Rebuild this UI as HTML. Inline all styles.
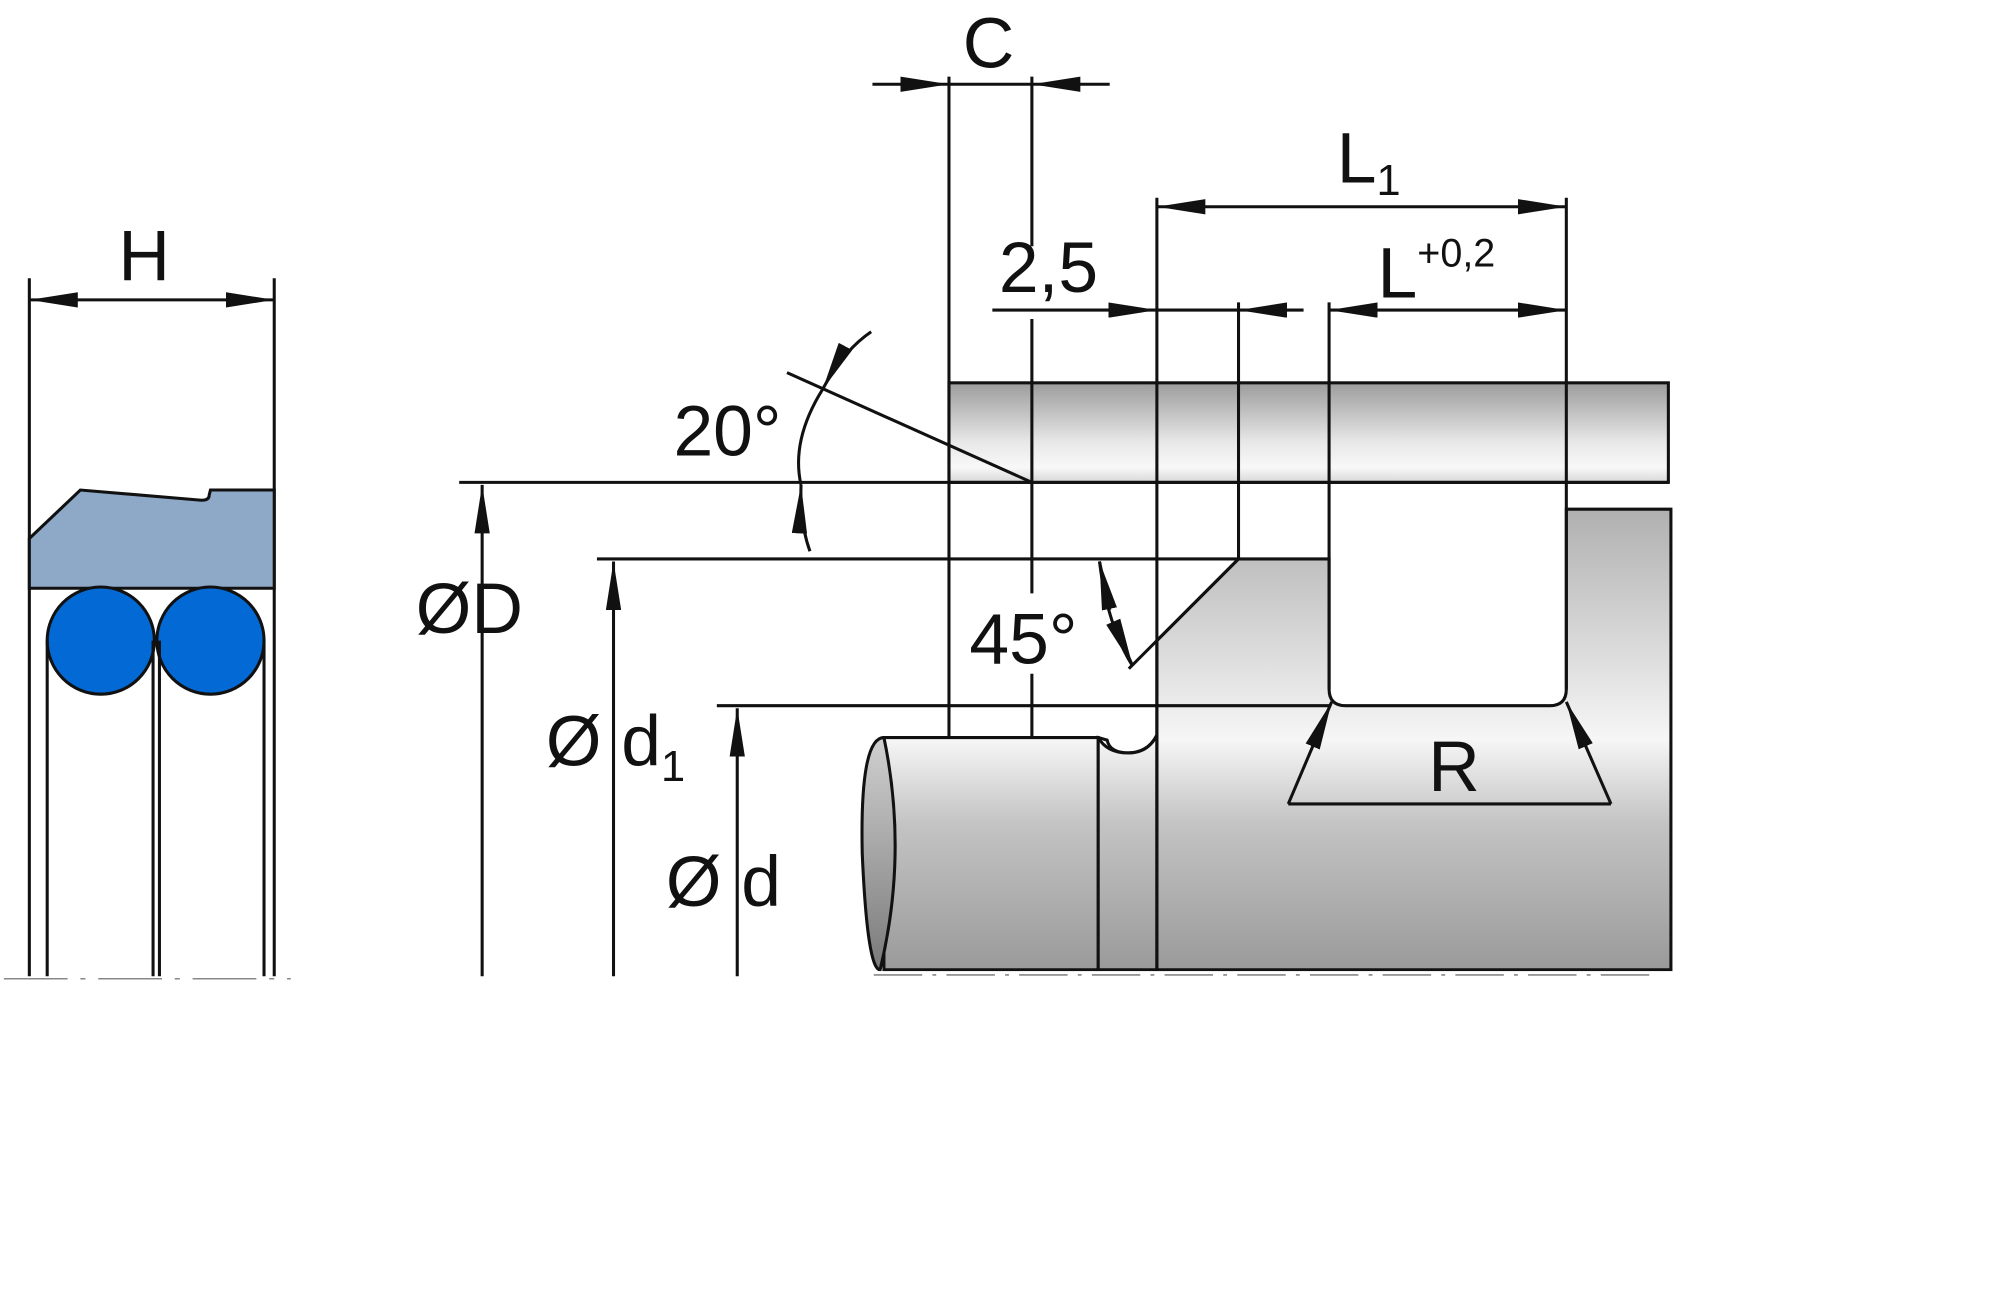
<!DOCTYPE html>
<html><head><meta charset="utf-8"><style>html,body{margin:0;padding:0;background:#fff}svg{display:block}</style></head>
<body>
<svg width="2000" height="1308" viewBox="0 0 1568 1025" preserveAspectRatio="none" xmlns="http://www.w3.org/2000/svg" font-family="Liberation Sans, sans-serif">
<defs>
<linearGradient id="gt" x1="0" y1="0" x2="0" y2="1">
<stop offset="0" stop-color="#9c9c9c"/><stop offset="0.6" stop-color="#e8e8e8"/><stop offset="0.85" stop-color="#f8f8f8"/><stop offset="1" stop-color="#d8d8d8"/></linearGradient>
<linearGradient id="gb" gradientUnits="userSpaceOnUse" x1="0" y1="399" x2="0" y2="760">
<stop offset="0" stop-color="#b0b0b0"/><stop offset="0.5" stop-color="#f6f6f6"/><stop offset="0.68" stop-color="#c4c4c4"/><stop offset="1" stop-color="#9a9a9a"/></linearGradient>
<linearGradient id="ge" x1="0" y1="0" x2="0" y2="1"><stop offset="0" stop-color="#d0d0d0"/><stop offset="1" stop-color="#7a7a7a"/></linearGradient>
<marker id="b" viewBox="0 0 10 10" refX="10" refY="5" markerWidth="38" markerHeight="12" markerUnits="userSpaceOnUse" orient="auto-start-reverse" preserveAspectRatio="none"><path d="M0,0 L10,5 L0,10 Z" fill="#111"/></marker>
</defs>
<g stroke="#111" stroke-width="2.4" fill="none">
<line x1="23" y1="218" x2="23" y2="765"/><line x1="215" y1="218" x2="215" y2="765"/>
<line x1="23" y1="235" x2="215" y2="235" marker-start="url(#b)" marker-end="url(#b)"/>
<path d="M23,422 L63,384 L158,392 Q164,392 164,388 L165,384 L215,384 L215,461 L23,461 Z" fill="#8ea8c8"/>
<circle cx="79" cy="502" r="42" fill="#0369d5"/><circle cx="165" cy="502" r="42" fill="#0369d5"/>
<line x1="37" y1="502" x2="37" y2="765"/><line x1="120" y1="502" x2="120" y2="765"/><line x1="125" y1="502" x2="125" y2="765"/><line x1="207" y1="502" x2="207" y2="765"/>
<line x1="3" y1="767" x2="228" y2="767" stroke="#888" stroke-width="1.2" stroke-dasharray="50,10,4,10"/>
<rect x="744" y="300" width="564" height="78" fill="url(#gt)"/>
<path d="M907,502 L971,438 L1042,438 L1042,540 Q1042,553 1055,553 L1215,553 Q1228,553 1228,540 L1228,399 L1310,399 L1310,760 L907,760 Z" fill="url(#gb)"/>
<path d="M693,578 L861,578 L861,760 L693,760 Z" fill="url(#gb)"/>
<path d="M861,578 L861,760 L907,760 L907,576 Q900,590 885,590 Q870,590 868,580 Z" fill="url(#gb)"/>
<path d="M861,578 Q868,590 884,590 Q900,590 907,576"/>
<path d="M693,578 Q674,578 676,669 Q680,760 690,760 Q712,669 693,578 Z" fill="url(#ge)"/>
<rect x="676" y="761" width="660" height="6" fill="#fff" stroke="none"/>
<line x1="685" y1="764" x2="1300" y2="764" stroke="#888" stroke-width="1.2" stroke-dasharray="38,8,3,8"/>
<line x1="744" y1="60" x2="744" y2="578"/>
<line x1="809" y1="60" x2="809" y2="193"/><line x1="809" y1="250" x2="809" y2="465"/><line x1="809" y1="528" x2="809" y2="578"/>
<line x1="907" y1="155" x2="907" y2="760"/>
<line x1="971" y1="237" x2="971" y2="438"/>
<line x1="1042" y1="237" x2="1042" y2="540"/>
<line x1="1228" y1="155" x2="1228" y2="540"/>
<line x1="360" y1="378" x2="1308" y2="378"/>
<line x1="468" y1="438" x2="971" y2="438"/>
<line x1="562" y1="553" x2="1042" y2="553"/>
<line x1="971" y1="438" x2="885" y2="524"/>
<line x1="617" y1="292" x2="809" y2="378"/>
<line x1="684" y1="66" x2="744" y2="66" marker-end="url(#b)"/>
<line x1="870" y1="66" x2="809" y2="66" marker-end="url(#b)"/>
<line x1="744" y1="66" x2="809" y2="66"/>
<line x1="907" y1="162" x2="1228" y2="162" marker-start="url(#b)" marker-end="url(#b)"/>
<line x1="778" y1="243" x2="907" y2="243" marker-end="url(#b)"/>
<line x1="907" y1="243" x2="971" y2="243"/>
<line x1="1022" y1="243" x2="971" y2="243" marker-end="url(#b)"/>
<line x1="1042" y1="243" x2="1228" y2="243" marker-start="url(#b)" marker-end="url(#b)"/>
<line x1="378" y1="765" x2="378" y2="380" marker-end="url(#b)"/>
<line x1="481" y1="765" x2="481" y2="440" marker-end="url(#b)"/>
<line x1="578" y1="765" x2="578" y2="555" marker-end="url(#b)"/>
<path d="M683,260 Q661,275 645,305" marker-end="url(#b)"/>
<path d="M645,305 Q620,345 628,380"/>
<path d="M635,432 Q627,410 628,380" marker-end="url(#b)"/>
<path d="M862,440 Q868,490 888,522"/>
<line x1="870" y1="478" x2="862" y2="440" marker-end="url(#b)"/>
<line x1="874" y1="490" x2="888" y2="522" marker-end="url(#b)"/>
<line x1="1010" y1="630" x2="1263" y2="630"/>
<line x1="1010" y1="630" x2="1044" y2="550" marker-end="url(#b)"/>
<line x1="1263" y1="630" x2="1228" y2="550" marker-end="url(#b)"/>
</g>
<g fill="#111" font-size="56">
<text x="113" y="220" text-anchor="middle">H</text>
<text x="775" y="53" text-anchor="middle">C</text>
<text x="1048" y="143">L<tspan font-size="34" dy="10">1</tspan></text>
<text x="822" y="229" text-anchor="middle">2,5</text>
<text x="1080" y="233">L<tspan font-size="31" dy="-24">+0,2</tspan></text>
<text x="528" y="357">20°</text>
<text x="326" y="496">ØD</text>
<text x="428" y="600">Ø d<tspan font-size="34" dy="12">1</tspan></text>
<text x="522" y="710">Ø d</text>
<text x="760" y="520">45°</text>
<text x="1140" y="620" text-anchor="middle">R</text>
</g>
</svg>
</body></html>
